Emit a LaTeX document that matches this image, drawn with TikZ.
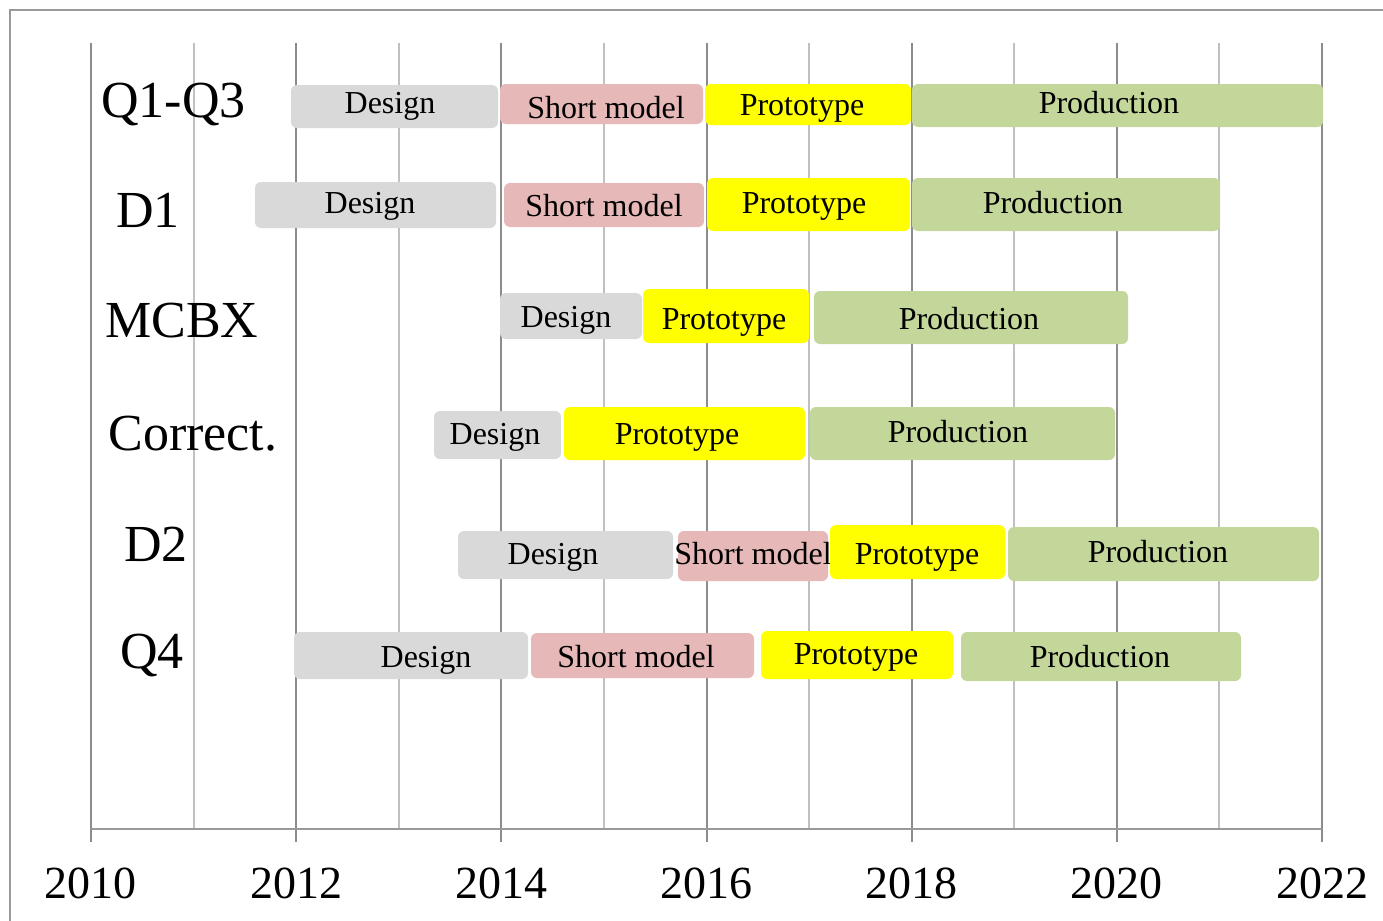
\documentclass[tikz,border=0pt]{standalone}
\usepackage{fontspec}
\setmainfont{Liberation Serif}
\begin{document}
\definecolor{barGray}{HTML}{D9D9D9}
\definecolor{barPink}{HTML}{E6B8B7}
\definecolor{barYellow}{HTML}{FFFF00}
\definecolor{barGreen}{HTML}{C4D79B}
\definecolor{gridDark}{HTML}{8C8C8C}
\definecolor{gridLight}{HTML}{C0C0C0}
\definecolor{frameGray}{HTML}{999999}
% #1 name, #2-#5 box corners, #6 fill, #7 text x, #8 text baseline, #9 text
\newcommand\ganttbar[9]{%
  \path[barbox, fill=#6] (#2,#3) rectangle (#4,#5);
  \node[bartext] (#1) at (#7,#8) {#9};
}
\begin{tikzpicture}[x=0.5pt, y=-0.5pt,
  barbox/.style={rounded corners=3pt},
  bartext/.style={anchor=base, inner sep=0pt, font=\fontsize{16}{19}\selectfont},
  rowlabel/.style={anchor=base west, inner sep=0pt, font=\fontsize{26}{30}\selectfont},
  yearlabel/.style={anchor=base, inner sep=0pt, font=\fontsize{23}{27}\selectfont},
  gridmajor/.style={draw=gridDark, line width=1pt},
  gridminor/.style={draw=gridLight, line width=1pt}]
\useasboundingbox (0,0) rectangle (1383,921);
\fill[white] (0,0) rectangle (1383,921);
% outer frame (left and top edges)
\draw[frameGray, line width=1pt] (10,921) -- (10,10) -- (1383,10);
% yearly grid lines, even years carry a tick below the axis
\foreach \i in {0,...,12} {
  \pgfmathsetmacro\gx{91+\i*102.583}
  \pgfmathtruncatemacro\yr{2010+\i}
  \ifodd\i
    \draw[gridminor] (\gx,43) -- (\gx,829);
  \else
    \draw[gridmajor] (\gx,43) -- (\gx,842);
    \node[yearlabel] (y\yr) at (\gx,898) {\yr};
  \fi
}
\draw[frameGray, line width=1pt] (91,829) -- (1322,829);
% row labels
\node[rowlabel] (lq13) at (101,117) {Q1-Q3};
\node[rowlabel] (ld1) at (116,227) {D1};
\node[rowlabel] (lmcbx) at (105,337) {MCBX};
\node[rowlabel] (lcorr) at (108,450) {Correct.};
\node[rowlabel] (ld2) at (124,561) {D2};
\node[rowlabel] (lq4) at (120,668) {Q4};
% Q1-Q3
\ganttbar{q13d}{291}{85}{498}{128}{barGray}{390}{113}{Design}
\ganttbar{q13s}{500}{84}{703}{124}{barPink}{606}{118}{Short model}
\ganttbar{q13p}{705}{84}{911}{125}{barYellow}{802}{115}{Prototype}
\ganttbar{q13r}{912}{84}{1323}{127}{barGreen}{1109}{113}{Production}
% D1
\ganttbar{d1d}{255}{182}{496}{228}{barGray}{370}{213}{Design}
\ganttbar{d1s}{504}{183}{704}{227}{barPink}{604}{216}{Short model}
\ganttbar{d1p}{707}{178}{910}{231}{barYellow}{804}{213}{Prototype}
\ganttbar{d1r}{912}{178}{1220}{231}{barGreen}{1053}{213}{Production}
% MCBX
\ganttbar{mcd}{500}{293}{642}{339}{barGray}{566}{327}{Design}
\ganttbar{mcp}{643}{289}{809}{343}{barYellow}{724}{329}{Prototype}
\ganttbar{mcr}{814}{291}{1128}{344}{barGreen}{969}{329}{Production}
% Correct.
\ganttbar{cod}{434}{411}{561}{459}{barGray}{495}{444}{Design}
\ganttbar{cop}{564}{407}{805}{460}{barYellow}{677}{444}{Prototype}
\ganttbar{cor}{810}{407}{1115}{460}{barGreen}{958}{442}{Production}
% D2
\ganttbar{d2d}{458}{531}{673}{579}{barGray}{553}{564}{Design}
\ganttbar{d2s}{678}{531}{828}{581}{barPink}{753}{564}{Short model}
\ganttbar{d2p}{830}{525}{1005}{579}{barYellow}{917}{564}{Prototype}
\ganttbar{d2r}{1008}{527}{1319}{581}{barGreen}{1158}{562}{Production}
% Q4
\ganttbar{q4d}{294}{632}{528}{679}{barGray}{426}{667}{Design}
\ganttbar{q4s}{531}{633}{754}{678}{barPink}{636}{667}{Short model}
\ganttbar{q4p}{761}{631}{953}{679}{barYellow}{856}{664}{Prototype}
\ganttbar{q4r}{961}{632}{1241}{681}{barGreen}{1100}{667}{Production}
\end{tikzpicture}
\end{document}
